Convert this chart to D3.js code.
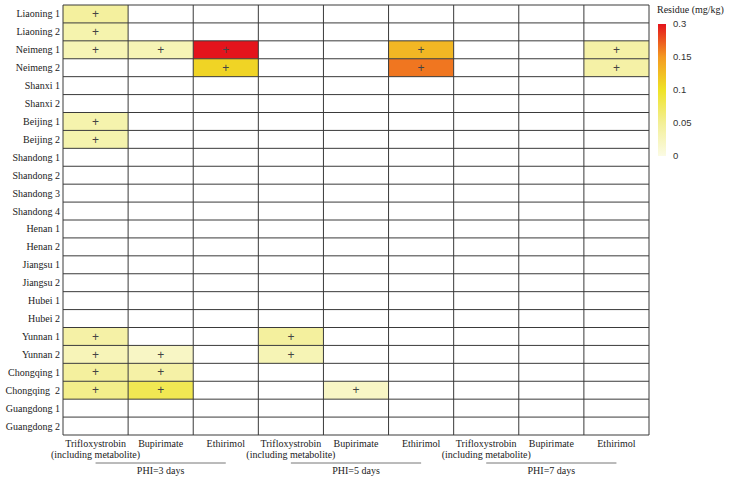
<!DOCTYPE html>
<html>
<head>
<meta charset="utf-8">
<script src="https://cdn.jsdelivr.net/npm/d3@7"></script>
<style>
  body { margin: 0; background: #fff; }
  .rowlab, .collab, .grplab, .legtitle { font-family: "Liberation Serif", "Times New Roman", serif; fill: #222; }
  .legtick { font-family: "Liberation Sans", Arial, sans-serif; fill: #333; }
</style>
</head>
<body>
<svg id="chart" width="731" height="480"></svg>
<script>
// regions (rows, top to bottom)
const regions = ["Liaoning 1", "Liaoning 2", "Neimeng 1", "Neimeng 2", "Shanxi 1", "Shanxi 2",
  "Beijing 1", "Beijing 2", "Shandong 1", "Shandong 2", "Shandong 3", "Shandong 4",
  "Henan 1", "Henan 2", "Jiangsu 1", "Jiangsu 2", "Hubei 1", "Hubei 2",
  "Yunnan 1", "Yunnan 2", "Chongqing 1", "Chongqing  2", "Guangdong 1", "Guangdong 2"];

const compounds = [["Trifloxystrobin", "(including metabolite)"], ["Bupirimate"], ["Ethirimol"]];
const phiGroups = ["PHI=3 days", "PHI=5 days", "PHI=7 days"];

// residue (mg/kg), one array per column: PHI3 T/B/E, PHI5 T/B/E, PHI7 T/B/E; null = not detected
const n = null;
const phi3Triflox = [0.045, 0.035, 0.03, n, n, n, 0.035, 0.035, n, n, n, n, n, n, n, n, n, n, 0.04, 0.028, 0.045, 0.055, n, n];
const phi3Bupir   = [n, n, 0.03, n, n, n, n, n, n, n, n, n, n, n, n, n, n, n, n, 0.02, 0.04, 0.08, n, n];
const phi3Ethir   = [n, n, 0.3, 0.11, n, n, n, n, n, n, n, n, n, n, n, n, n, n, n, n, n, n, n, n];
const phi5Triflox = [n, n, n, n, n, n, n, n, n, n, n, n, n, n, n, n, n, n, 0.045, 0.03, n, n, n, n];
const phi5Bupir   = [n, n, n, n, n, n, n, n, n, n, n, n, n, n, n, n, n, n, n, n, n, 0.02, n, n];
const phi5Ethir   = [n, n, 0.13, 0.19, n, n, n, n, n, n, n, n, n, n, n, n, n, n, n, n, n, n, n, n];
const phi7Triflox = [n, n, n, n, n, n, n, n, n, n, n, n, n, n, n, n, n, n, n, n, n, n, n, n];
const phi7Bupir   = [n, n, n, n, n, n, n, n, n, n, n, n, n, n, n, n, n, n, n, n, n, n, n, n];
const phi7Ethir   = [n, n, 0.04, 0.04, n, n, n, n, n, n, n, n, n, n, n, n, n, n, n, n, n, n, n, n];

const legendTicks = [0, 0.05, 0.1, 0.15, 0.3];
const legendColors = ["#fbfbe4", "#f3ef96", "#efe326", "#f49a22", "#e4141c"];

const columns = [phi3Triflox, phi3Bupir, phi3Ethir, phi5Triflox, phi5Bupir, phi5Ethir, phi7Triflox, phi7Bupir, phi7Ethir];

const svg = d3.select("#chart");
const margin = { top: 5, left: 63 };
const gridW = 586, gridH = 430;

const x = d3.scaleBand().domain(d3.range(columns.length)).range([0, gridW]);
const y = d3.scaleBand().domain(regions).range([0, gridH]);
const color = d3.scaleLinear().domain(legendTicks).range(legendColors).clamp(true);

const g = svg.append("g").attr("transform", "translate(" + margin.left + "," + margin.top + ")");

// cells
const cells = [];
columns.forEach(function (col, ci) {
  col.forEach(function (v, ri) { cells.push({ c: ci, r: regions[ri], v: v }); });
});

g.selectAll("rect.cell")
  .data(cells.filter(d => d.v !== null))
  .enter().append("rect")
  .attr("class", "cell")
  .attr("x", d => x(d.c))
  .attr("y", d => y(d.r))
  .attr("width", x.bandwidth())
  .attr("height", y.bandwidth())
  .attr("fill", d => color(d.v));

// grid lines
g.selectAll("line.h")
  .data(d3.range(regions.length + 1))
  .enter().append("line")
  .attr("x1", 0).attr("x2", gridW)
  .attr("y1", i => i * y.step()).attr("y2", i => i * y.step())
  .attr("stroke", "#3a3a3a").attr("stroke-width", 1);

g.selectAll("line.v")
  .data(d3.range(columns.length + 1))
  .enter().append("line")
  .attr("y1", 0).attr("y2", gridH)
  .attr("x1", i => i * x.step()).attr("x2", i => i * x.step())
  .attr("stroke", "#3a3a3a").attr("stroke-width", 1);

// plus marks
g.selectAll("text.plus")
  .data(cells.filter(d => d.v !== null))
  .enter().append("text")
  .attr("x", d => x(d.c) + x.bandwidth() / 2)
  .attr("y", d => y(d.r) + y.bandwidth() / 2)
  .attr("dy", "0.35em")
  .attr("text-anchor", "middle")
  .attr("font-family", "Liberation Sans, Arial, sans-serif")
  .attr("font-size", 12)
  .attr("fill", "#444")
  .text("+");

// row labels
g.selectAll("text.rowlab")
  .data(regions)
  .enter().append("text")
  .attr("class", "rowlab")
  .attr("x", -3)
  .attr("y", d => y(d) + y.bandwidth() / 2)
  .attr("dy", "0.35em")
  .attr("text-anchor", "end")
  .attr("font-size", 10)
  .style("white-space", "pre")
  .text(d => d);

// column labels
columns.forEach(function (col, ci) {
  const lines = compounds[ci % 3];
  lines.forEach(function (t, li) {
    g.append("text")
      .attr("class", "collab")
      .attr("x", x(ci) + x.bandwidth() / 2)
      .attr("y", gridH + 12 + li * 11)
      .attr("text-anchor", "middle")
      .attr("font-size", 10)
      .text(t);
  });
});

// PHI groups
phiGroups.forEach(function (p, gi) {
  const cx = x(gi * 3) + 1.5 * x.step();
  g.append("line")
    .attr("x1", cx - x.step()).attr("x2", cx + x.step())
    .attr("y1", gridH + 28).attr("y2", gridH + 28)
    .attr("stroke", "#777").attr("stroke-width", 1);
  g.append("text")
    .attr("class", "grplab")
    .attr("x", cx)
    .attr("y", gridH + 39)
    .attr("text-anchor", "middle")
    .attr("font-size", 10)
    .text(p);
});

// legend
const legX = 658, legTop = 24, legH = 132, legW = 8;
const ly = d3.scalePoint().domain(legendTicks.slice().reverse()).range([legTop, legTop + legH]);
const defs = svg.append("defs");
const grad = defs.append("linearGradient").attr("id", "leg").attr("x1", 0).attr("x2", 0).attr("y1", 1).attr("y2", 0);
legendTicks.forEach(function (t, i) {
  grad.append("stop").attr("offset", i / (legendTicks.length - 1)).attr("stop-color", color(t));
});
svg.append("rect")
  .attr("x", legX).attr("y", legTop)
  .attr("width", legW).attr("height", legH)
  .attr("fill", "url(#leg)");

svg.append("text")
  .attr("class", "legtitle")
  .attr("x", 657).attr("y", 13)
  .attr("font-size", 10)
  .text("Residue (mg/kg)");

svg.selectAll("text.legtick")
  .data(legendTicks)
  .enter().append("text")
  .attr("class", "legtick")
  .attr("x", legX + 15)
  .attr("y", d => ly(d))
  .attr("dy", "0.35em")
  .attr("font-size", 9.5)
  .text(d => d);
</script>
</body>
</html>
